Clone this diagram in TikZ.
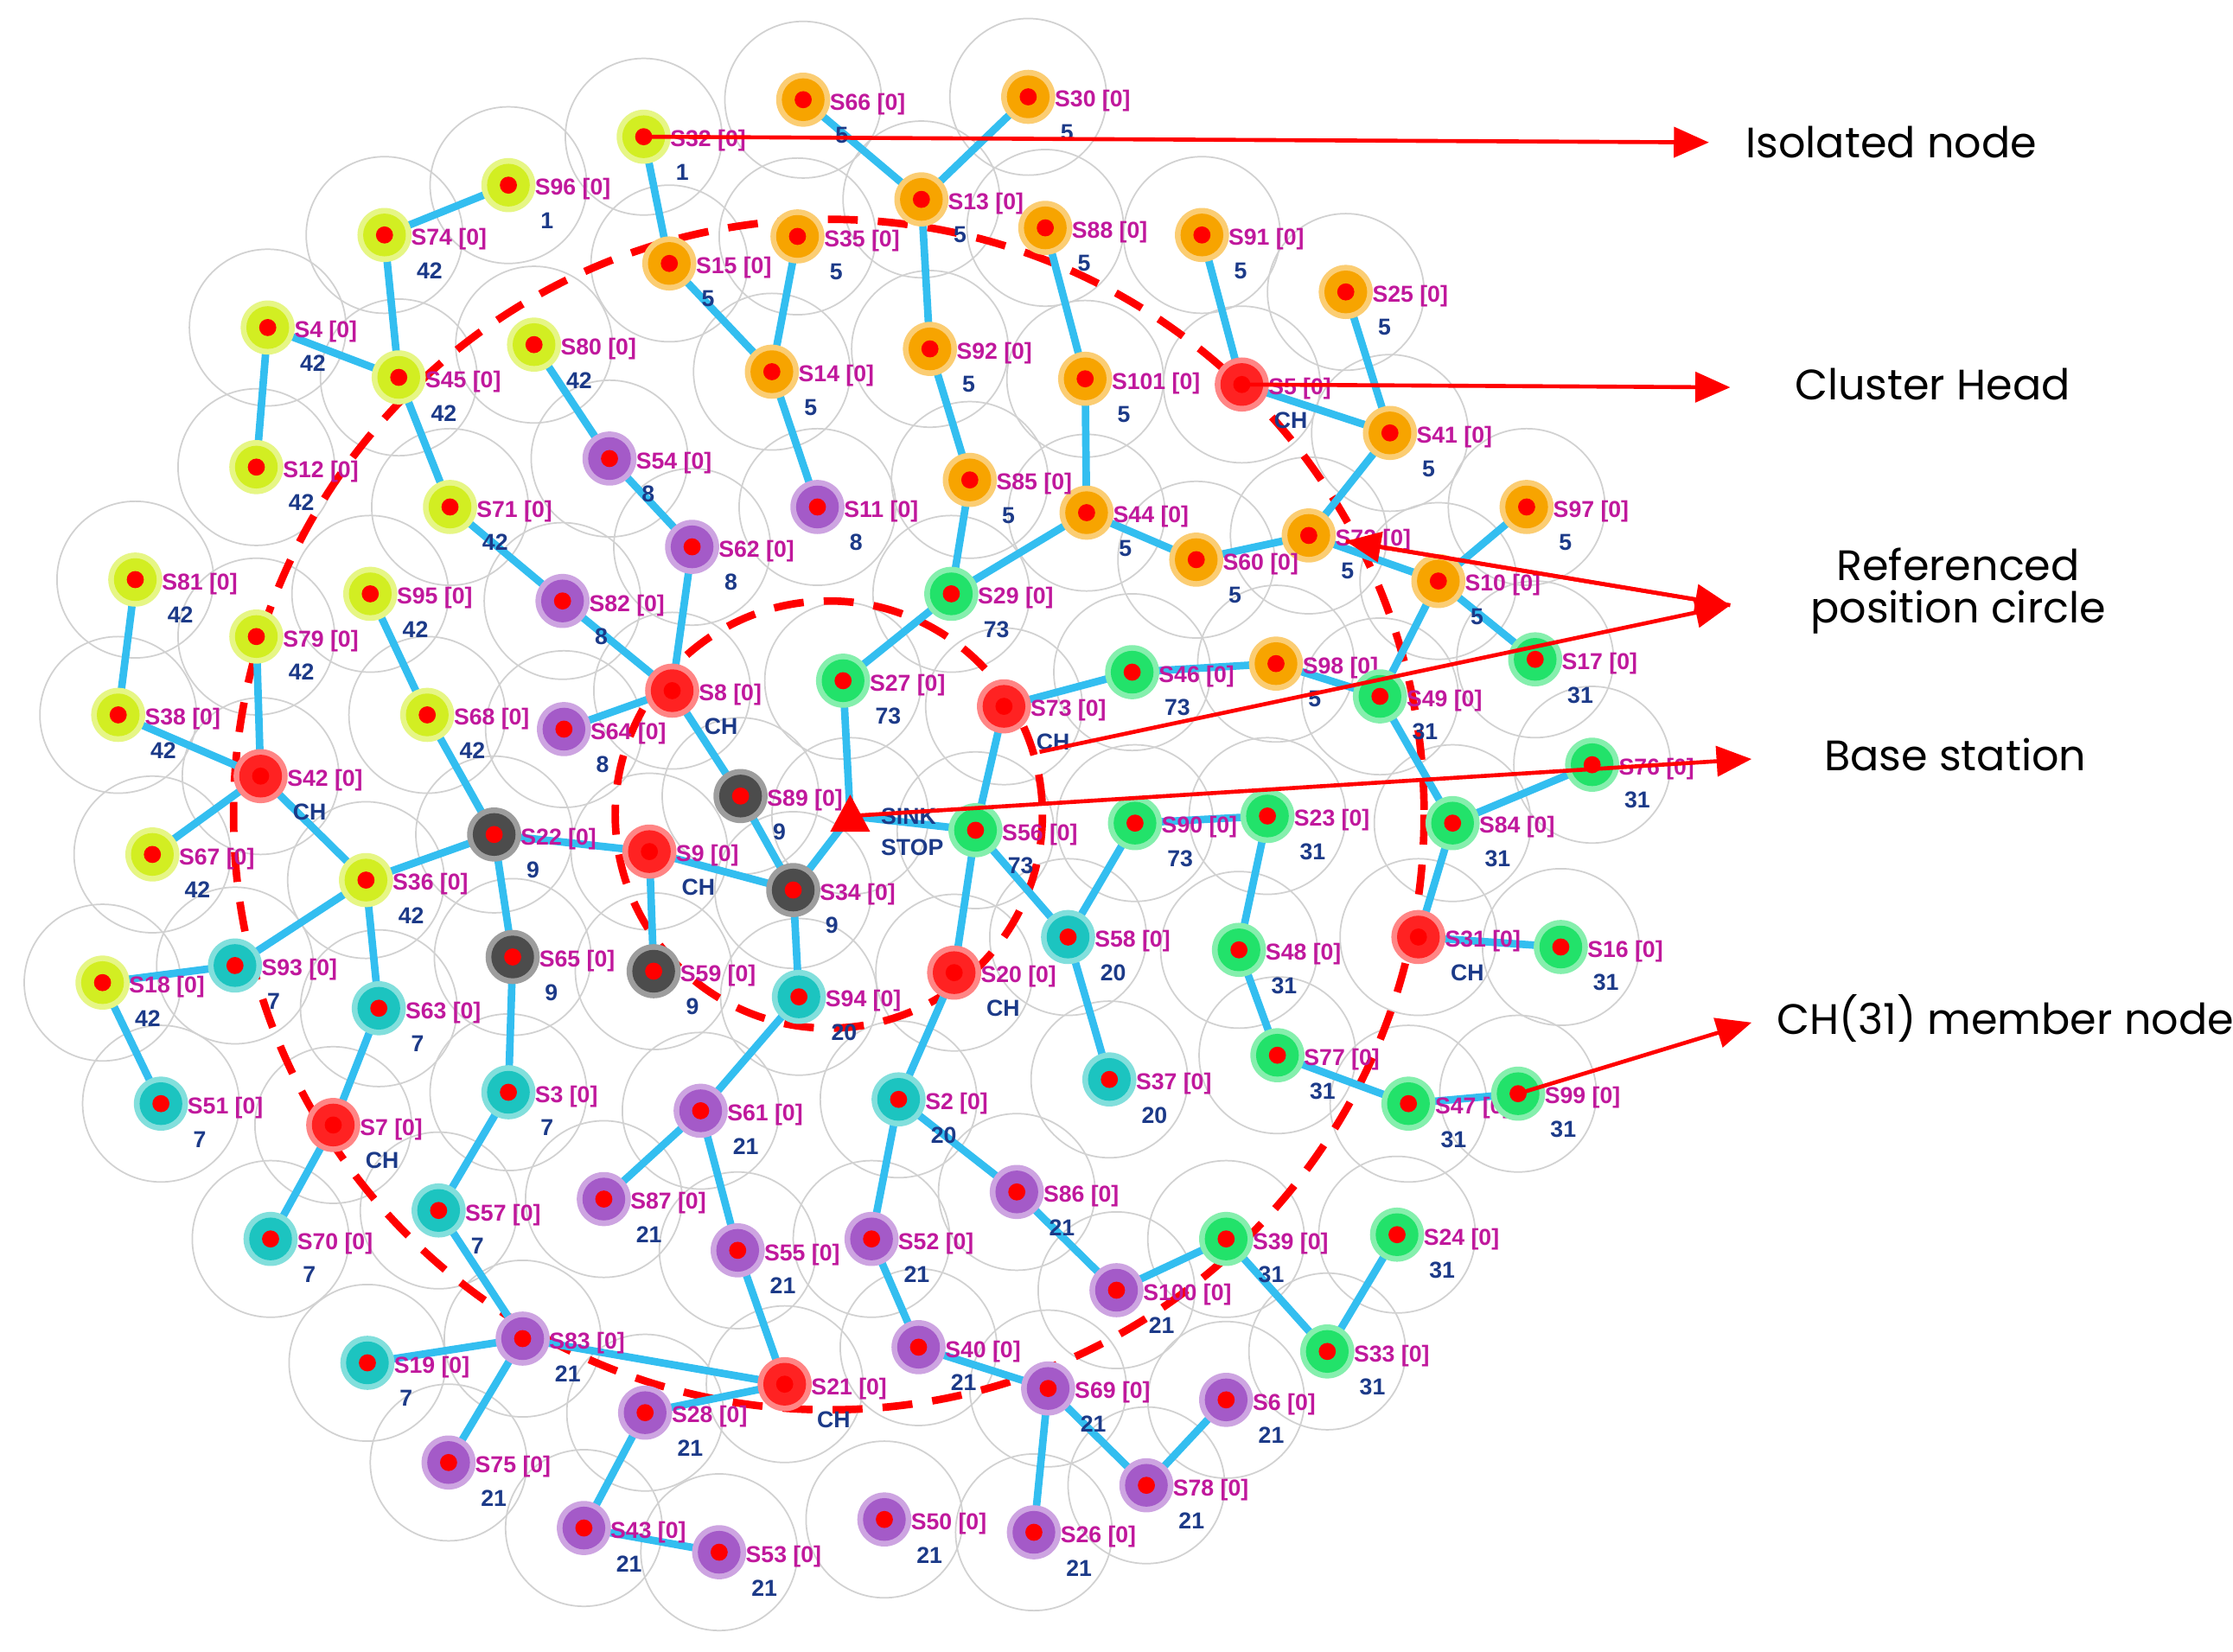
\documentclass[tikz,border=0pt]{standalone}
\usepackage{fontspec}
\setmainfont{Liberation Sans}
\newfontfamily\legfont{Poppins}
\usetikzlibrary{arrows.meta}
\definecolor{cL}{HTML}{D2EE22}
\definecolor{cO}{HTML}{F7A400}
\definecolor{cP}{HTML}{A45AC8}
\definecolor{cG}{HTML}{22E26A}
\definecolor{cT}{HTML}{1CC4C0}
\definecolor{cD}{HTML}{4C4C4C}
\definecolor{cR}{HTML}{FF2222}
\definecolor{edge}{HTML}{33BEF0}
\definecolor{labc}{HTML}{C0189C}
\definecolor{numc}{HTML}{1C3A88}
\begin{document}
\begin{tikzpicture}[x=0.01cm,y=-0.01cm,
  lab/.style={text=labc,font=\fontsize{4.6}{5}\selectfont\bfseries,inner sep=0pt,anchor=west},
  num/.style={text=numc,font=\fontsize{4.6}{5}\selectfont\bfseries,inner sep=0pt,anchor=west},
  link/.style={draw=edge,line width=1.5pt},
  pointer/.style={draw=red,line width=0.8pt,-{Triangle[length=7pt,width=6pt]}},
  leg/.style={font=\legfont\fontsize{8.5}{10.5}\selectfont,align=center}]
\useasboundingbox (0,0) rectangle (1568,1160);
\fill[white] (0,0) rectangle (1568,1160);
\def\nodelist{S32/452/96/L/1,S96/357/130/L/1,S74/270/165/L/42,S4/188/230/L/42,S45/280/265/L/42,S12/180/328/L/42,S80/375/242/L/42,S71/316/356/L/42,S81/95/407/L/42,S95/260/417/L/42,S79/180/447/L/42,S38/83/502/L/42,S68/300/502/L/42,S42/183/545/R/CH,S67/107/600/L/42,S36/257/618/L/42,S18/72/690/L/42,S93/165/678/T/7,S63/266/708/T/7,S51/113/775/T/7,S7/234/790/R/CH,S70/190/870/T/7,S3/357/767/T/7,S57/308/850/T/7,S19/258/957/T/7,S83/367/940/P/21,S75/315/1027/P/21,S43/410/1073/P/21,S53/505/1090/P/21,S28/453/992/P/21,S21/551/972/R/CH,S61/492/780/P/21,S87/424/842/P/21,S55/518/878/P/21,S94/561/700/T/20,S2/631/772/T/20,S52/612/870/P/21,S40/645/946/P/21,S86/714/837/P/21,S100/784/906/P/21,S69/736/975/P/21,S26/726/1076/P/21,S50/621/1067/P/21,S78/805/1043/P/21,S6/861/983/P/21,S39/861/870/G/31,S24/981/867/G/31,S33/932/949/G/31,S47/989/775/G/31,S99/1066/768/G/31,S77/897/741/G/31,S48/870/667/G/31,S31/996/658/R/CH,S16/1096/665/G/31,S84/1020/578/G/31,S76/1118/537/G/31,S23/890/573/G/31,S90/797/578/G/73,S58/750/658/T/20,S37/779/758/T/20,S20/670/683/R/CH,S56/685/583/G/73,S34/557/625/D/9,S89/520/559/D/9,S9/456/598/R/CH,S22/347/586/D/9,S65/360/672/D/9,S59/459/682/D/9,S8/472/485/R/CH,S64/396/512/P/8,S82/395/422/P/8,S62/486/384/P/8,S54/428/322/P/8,S11/574/356/P/8,S27/592/478/G/73,S29/668/417/G/73,S73/705/496/R/CH,S46/795/472/G/73,S98/896/466/O/5,S49/969/489/G/31,S17/1078/463/G/31,S10/1010/408/O/5,S97/1072/356/O/5,S72/919/376/O/5,S60/840/393/O/5,S44/763/360/O/5,S85/681/337/O/5,S41/976/304/O/5,S5/872/270/R/CH,S25/945/205/O/5,S91/844/165/O/5,S101/762/266/O/5,S88/734/160/O/5,S92/653/245/O/5,S14/542/261/O/5,S13/647/140/O/5,S35/560/166/O/5,S15/470/185/O/5,S66/564/70/O/5,S30/722/68/O/5}
\foreach \n/\x/\y/\c/\k in \nodelist {
  \coordinate (\n) at (\x,\y);
  \draw[black!18,line width=0.3pt] (\x,\y) circle[radius=55];
}
\coordinate (SINK) at (597,573);
\draw[black!18,line width=0.3pt] (SINK) circle[radius=55];
\draw[red,line width=1.5pt,dash pattern=on 6pt off 4pt] (582,572) circle[radius=418];
\draw[red,line width=1.5pt,dash pattern=on 6pt off 4pt] (582,572) circle[radius=150];
\foreach \a/\b in {S32/S15,S96/S74,S74/S45,S4/S12,S4/S45,S45/S71,S71/S82,S82/S8,S80/S54,S54/S62,S62/S8,S81/S38,S38/S42,S79/S42,S42/S67,S42/S36,S95/S68,S68/S22,S36/S22,S36/S63,S18/S93,S93/S36,S63/S7,S7/S70,S51/S18,S22/S9,S22/S65,S65/S3,S3/S57,S57/S83,S83/S19,S83/S75,S83/S21,S21/S28,S28/S43,S43/S53,S21/S55,S55/S61,S61/S87,S61/S94,S94/S34,S34/S89,S89/S8,S34/SINK,S9/S59,S9/S34,S64/S8,S27/SINK,S29/S27,S11/S14,S15/S14,S35/S14,S29/S85,S85/S92,S92/S13,S13/S66,S13/S30,S29/S44,S44/S101,S101/S88,S44/S60,S60/S72,S72/S41,S41/S5,S41/S25,S5/S91,S72/S10,S10/S97,S10/S49,S10/S17,S49/S98,S98/S46,S46/S73,S73/S56,S49/S84,S84/S76,S84/S31,S31/S16,S56/S20,S20/S2,S56/S58,S58/S37,S58/S90,S90/S23,S23/S48,S48/S77,S77/S47,S47/S99,S2/S52,S52/S40,S40/S69,S2/S86,S86/S100,S100/S39,S39/S33,S33/S24,S69/S26,S69/S78,S78/S6,S56/SINK}
  \draw[link] (\a) -- (\b);
\foreach \n/\x/\y/\c/\k in \nodelist {
  \fill[c\c!55!white] (\x,\y) circle[radius=19];
  \fill[c\c] (\x,\y) circle[radius=15];
  \fill[red] (\x,\y) circle[radius=6];
  \node[lab] at (\x+18,\y+3) {\n\ [0]};
  \node[num] at (\x+22,\y+25) {\k};
}
\fill[red] (597,558) -- (611,584) -- (583,584) -- cycle;
\node[num] (sinkt) at (618,573) {SINK};
\node[num] (stopt) at (618,595) {STOP};
\coordinate (iso) at (1200,100);
\coordinate (chl) at (1215,272);
\coordinate (refl) at (1215,425);
\coordinate (refa) at (945,380);
\coordinate (refb) at (730,528);
\coordinate (bsl) at (1230,533);
\coordinate (meml) at (1230,718);
\draw[pointer] (S32) -- (iso);
\draw[pointer] (S5) -- (chl);
\draw[pointer] (refb) -- (refl);
\draw[pointer] (refl) -- (refa);
\draw[pointer] (refa) -- (refl);
\draw[pointer] (SINK) -- (bsl);
\draw[pointer] (S99) -- (meml);
\node[leg] (t1) at (1328,100) {Isolated node};
\node[leg] (t2) at (1357,270) {Cluster Head};
\node[leg] (t3) at (1375,415) {Referenced\\[-2pt]position circle};
\node[leg] (t4) at (1373,530) {Base station};
\node[leg] (t5) at (1408,715) {CH(31) member node};
\end{tikzpicture}
\end{document}
